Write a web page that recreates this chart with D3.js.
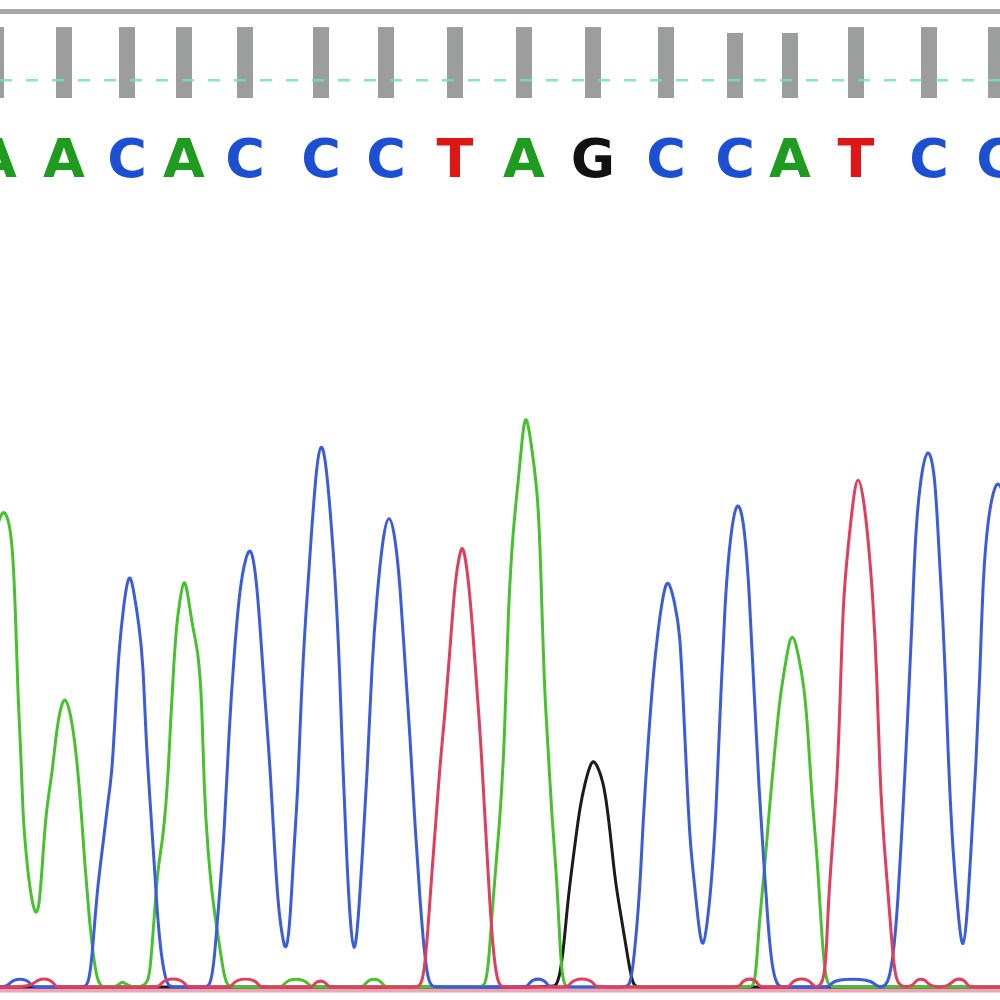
<!DOCTYPE html>
<html>
<head>
<meta charset="utf-8">
<script src="https://cdn.jsdelivr.net/npm/d3@7/dist/d3.min.js"></script>
<style>
  html, body { margin: 0; padding: 0; background: #fff; }
  svg { display: block; }
</style>
</head>
<body>
<div id="chart"></div>
<script>
// ---------------- DATA ----------------
// Base calls
const bases = ["A","A","C","A","C","C","C","T","A","G","C","C","A","T","C","C"];
// Base-call scan positions
const basePos = [4198, 4232, 4263.5, 4292, 4322.5, 4360.5, 4393, 4427.5, 4462, 4496.5, 4533, 4567.5, 4595, 4628, 4664.5, 4698];
// Quality values per base
const quality = [60, 60, 60, 60, 60, 60, 60, 60, 60, 60, 60, 55, 55, 60, 60, 60];
const qualityThreshold = 15;

// Trace data [scan, intensity]
const traceA = [
  [4198, 914], [4201.5, 960], [4204.5, 934], [4206.5, 874], [4208, 720], [4209, 574], [4210.5, 468],
  [4211.5, 334], [4213.5, 248], [4215, 194], [4217.5, 142], [4219.5, 155], [4221, 234], [4223, 354],
  [4226, 424], [4228, 504], [4230, 554], [4232.5, 586], [4235.5, 544], [4238, 474], [4240.5, 360],
  [4242.5, 240], [4244.5, 144], [4246.5, 64], [4249, 4], [4252, 0],
  [4259, 0], [4261, 14], [4264, 0],
  [4273, 0], [4275, 24], [4277, 134], [4279, 244], [4281.5, 294], [4284, 414], [4285.5, 548],
  [4287, 654], [4288.5, 734], [4290, 774], [4292, 823], [4294, 784], [4296.5, 714], [4299, 674],
  [4301, 574], [4302, 394], [4304, 268], [4306.5, 168], [4309, 104], [4311.5, 34], [4313.5, 0],
  [4317, 0], [4339, 0],
  [4341.5, 0], [4343.5, 16], [4352.5, 16], [4355, 0], [4358, 0], [4379, 0],
  [4382, 0], [4384, 16], [4390, 16], [4392, 0], [4395, 0], [4439, 0],
  [4442, 0], [4444, 24], [4446.5, 178], [4450, 332], [4452.5, 508], [4454, 752], [4456.5, 914],
  [4459, 1006], [4461, 1094], [4463, 1162], [4466.5, 1060], [4469, 982], [4470.5, 830], [4472, 606],
  [4474, 484], [4476, 332], [4478.5, 216], [4480, 74], [4481.5, 8], [4483.5, 0], [4486, 0], [4574, 0],
  [4576.5, 0], [4578, 24], [4579.5, 126], [4582.5, 246], [4585, 372], [4587.5, 478], [4590, 582],
  [4593, 654], [4596, 721], [4599.5, 658], [4602, 604], [4604, 512], [4606, 372], [4608.5, 266],
  [4610, 162], [4611.5, 70], [4613, 14], [4615, 0], [4618, 0],
  [4702, 0]
];

const traceC = [
  [4198, 0], [4204, 0], [4206, 16], [4214, 16], [4216, 0], [4219, 0], [4241, 0],
  [4244, 0], [4246, 54], [4248.5, 194], [4251.5, 284], [4254, 374], [4256, 424], [4258, 574],
  [4259.5, 674], [4261.5, 754], [4264.5, 839], [4267, 790], [4269.5, 724], [4271.5, 654], [4273, 494],
  [4275, 374], [4277, 254], [4278.5, 154], [4280.5, 64], [4283, 10], [4285, 0], [4288, 0], [4302, 0],
  [4305, 0], [4307, 44], [4309.5, 174], [4312, 294], [4314.5, 514], [4317, 664], [4320, 804],
  [4323, 862], [4325.5, 883], [4328, 824], [4330, 724], [4332.5, 574], [4335, 444], [4337, 294],
  [4339, 164], [4341, 104], [4343, 64], [4345, 124], [4347, 282], [4349, 394], [4350.5, 578],
  [4353, 754], [4355.5, 894], [4358, 1034], [4360.5, 1098], [4363, 1050], [4365.5, 934], [4368, 794],
  [4370, 616], [4371.5, 430], [4373.5, 246], [4375, 134], [4377, 55], [4379, 124], [4381, 254],
  [4383.5, 416], [4386, 654], [4388.5, 784], [4391.5, 904], [4394.5, 953], [4397.5, 904], [4400, 808],
  [4402.5, 646], [4405, 504], [4407.5, 320], [4410, 174], [4412, 74], [4414, 14], [4416, 0],
  [4419, 0], [4461, 0],
  [4464, 0], [4465.5, 16], [4472.5, 16], [4474, 0], [4477, 0], [4512, 0],
  [4515, 0], [4517, 54], [4520, 194], [4521.5, 332], [4524, 484], [4526.5, 622], [4529, 714],
  [4531.5, 784], [4534, 823], [4537.5, 766], [4540, 710], [4541.5, 582], [4543.5, 408], [4545, 288],
  [4547.5, 196], [4549.5, 114], [4551.5, 72], [4553.5, 124], [4555.5, 196], [4558, 338], [4560, 548],
  [4562.5, 774], [4565, 898], [4568.5, 983], [4572, 934], [4574.5, 804], [4577, 594], [4579.5, 394],
  [4582, 244], [4584, 124], [4586, 38], [4588.5, 4], [4590.5, 0], [4593, 0], [4612, 0],
  [4615, 0], [4616.5, 16], [4636, 16], [4638, 0],
  [4643, 0], [4645, 24], [4647, 74], [4649, 174], [4650.5, 282], [4652.5, 430], [4654, 556],
  [4656, 724], [4657.5, 894], [4660, 1014], [4664, 1092], [4667.5, 1026], [4669, 908], [4671, 766],
  [4672.5, 648], [4674, 466], [4676.5, 262], [4679, 150], [4681.5, 52], [4684, 164], [4686, 314],
  [4688, 444], [4690, 626], [4691.5, 824], [4694, 936], [4696.5, 990], [4699, 1015], [4702, 984]
];

const traceT = [
  [4198, 0], [4216.5, 0], [4218, 16], [4226, 16], [4227.5, 0], [4230, 0], [4277, 0],
  [4280, 0], [4281.5, 16], [4291.5, 16], [4293, 0], [4296, 0], [4313, 0],
  [4316, 0], [4317.5, 16], [4328, 16], [4329.5, 0], [4332, 0], [4354, 0],
  [4356.5, 0], [4358, 12], [4362.5, 12], [4364, 0], [4367, 0], [4407, 0],
  [4410, 0], [4412, 24], [4414, 114], [4416, 234], [4418, 334], [4420, 446], [4422.5, 546],
  [4425, 676], [4427.5, 814], [4430, 870], [4431.5, 887], [4434, 824], [4436, 734], [4438.5, 594],
  [4440.5, 484], [4442.5, 338], [4444.5, 194], [4446.5, 74], [4448.5, 14], [4450.5, 0], [4453, 0], [4482, 0],
  [4484.5, 0], [4486, 16], [4496, 16], [4497.5, 0], [4500, 0], [4567, 0],
  [4570, 0], [4571.5, 16], [4578, 16], [4579.5, 0], [4582, 0], [4592, 0],
  [4595, 0], [4596.5, 16], [4605, 16], [4606.5, 0],
  [4611, 0], [4613, 44], [4614, 162], [4616.5, 302], [4618.5, 408], [4620, 562], [4621.5, 774],
  [4624, 878], [4626.5, 974], [4629, 1033], [4632, 974], [4634.5, 878], [4636.5, 774], [4638.5, 626],
  [4640, 402], [4642.5, 262], [4644.5, 164], [4646, 84], [4647.5, 24], [4649.5, 0],
  [4656.5, 0], [4658, 16], [4663, 16], [4664.5, 0],
  [4675, 0], [4676.5, 16], [4682.5, 16], [4684, 0], [4687, 0],
  [4702, 0]
];

const traceG = [
  [4198, 0], [4475, 0], [4478, 0], [4480, 24], [4482, 84], [4484, 178], [4487.5, 286], [4490, 362],
  [4492.5, 408], [4495, 444], [4497, 456], [4500, 430], [4502.5, 394], [4505, 314], [4507.5, 214],
  [4510, 154], [4512.5, 94], [4514.5, 44], [4516.5, 4], [4518.5, 0], [4521, 0], [4702, 0]
];

// ---------------- STYLE ----------------
const W = 1000, H = 1000;
const baseColor = { A: "#1f9c1f", C: "#1d4fd3", T: "#de1616", G: "#111111" };
const traceColor = { A: "#47c22e", C: "#3b5cdc", T: "#e23d5d", G: "#1b1b1b" };

const svg = d3.select("#chart").append("svg").attr("width", W).attr("height", H);

const x = d3.scaleLinear().domain([4200, 4700]).range([0, 1000]);
const y = d3.scaleLinear().domain([0, 1200]).range([987, 387]);
const q = d3.scaleLinear().domain([0, 60]).range([98, 27]);

// top border
svg.append("line").attr("x1", 0).attr("x2", W).attr("y1", 11.5).attr("y2", 11.5)
  .attr("stroke", "#a3a8a6").attr("stroke-width", 5);

// quality bars
const barW = x(4208) - x(4200);
svg.append("g").selectAll("rect").data(basePos).join("rect")
  .attr("x", d => x(d) - barW / 2)
  .attr("width", barW)
  .attr("y", (d, i) => q(quality[i]))
  .attr("height", (d, i) => q(0) - q(quality[i]))
  .attr("fill", "#9b9e9d");

// threshold line
svg.append("line").attr("x1", 0).attr("x2", W)
  .attr("y1", q(qualityThreshold)).attr("y2", q(qualityThreshold))
  .attr("stroke", "#6fe3c2").attr("stroke-width", 2.5)
  .attr("stroke-dasharray", "12 14").attr("opacity", 0.85);

// base letters
svg.append("g").selectAll("text").data(bases).join("text")
  .attr("x", (d, i) => x(basePos[i]))
  .attr("y", 177)
  .attr("text-anchor", "middle")
  .attr("font-family", "'DejaVu Sans', 'Liberation Sans', sans-serif")
  .attr("font-weight", "bold")
  .attr("font-size", 54)
  .attr("fill", d => baseColor[d])
  .text(d => d);

// baseline halo
svg.append("line").attr("x1", 0).attr("x2", W).attr("y1", y(0) + 3).attr("y2", y(0) + 3)
  .attr("stroke", "#f3a3b6").attr("stroke-width", 5);

// traces
const line = d3.line().x(d => x(d[0])).y(d => y(d[1])).curve(d3.curveBasis);
const traces = [
  { key: "G", data: traceG },
  { key: "A", data: traceA },
  { key: "C", data: traceC },
  { key: "T", data: traceT }
];
svg.append("g").selectAll("path").data(traces).join("path")
  .attr("d", d => line(d.data))
  .attr("fill", "none")
  .attr("stroke", d => traceColor[d.key])
  .attr("stroke-width", 3)
  .attr("stroke-linejoin", "round");
</script>
</body>
</html>
